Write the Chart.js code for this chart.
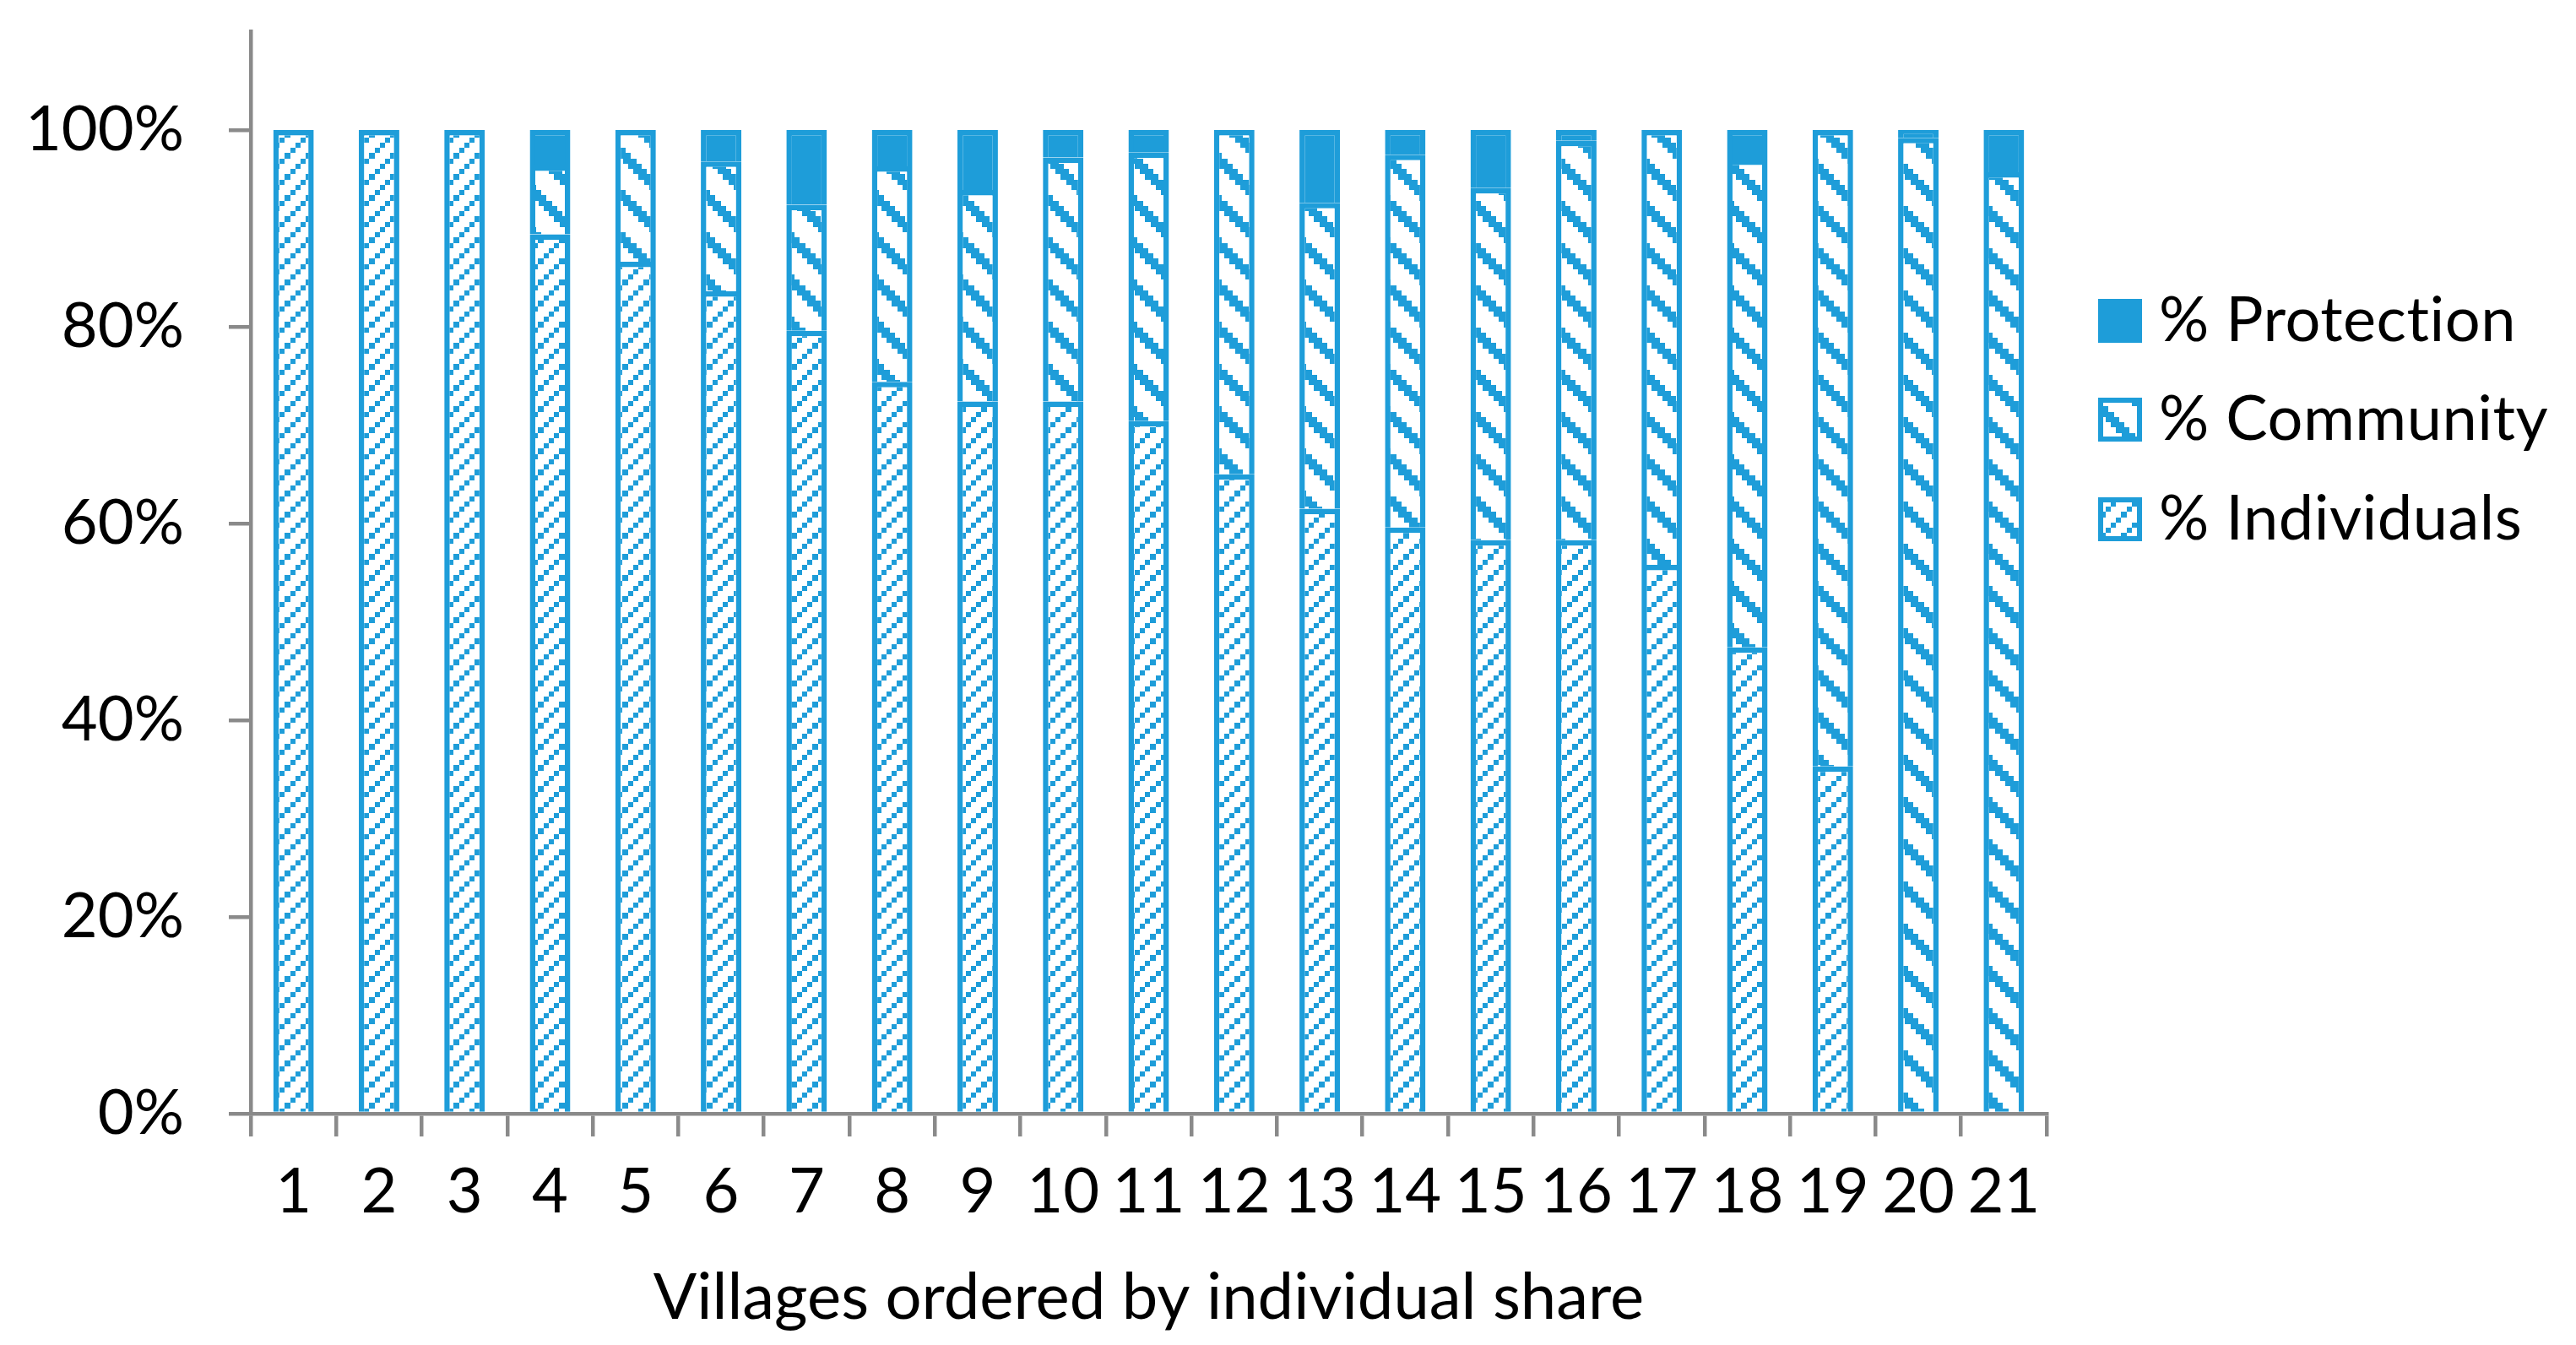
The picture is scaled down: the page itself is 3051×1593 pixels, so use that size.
<!DOCTYPE html>
<html>
<head>
<meta charset="utf-8">
<script src="https://cdn.jsdelivr.net/npm/chart.js@4/dist/chart.umd.min.js"></script>
<style>
  html, body { margin: 0; padding: 0; background: #ffffff; }
  #wrap { width: 3051px; height: 1593px; }
</style>
</head>
<body>
<div id="wrap"><canvas id="c" width="3051" height="1593"></canvas></div>
<script>
// ---- data ----
const categories = ['1','2','3','4','5','6','7','8','9','10','11','12','13','14','15','16','17','18','19','20','21'];
const individuals = [100, 100, 100, 89.4, 86.6, 83.6, 79.6, 74.4, 72.4, 72.4, 70.4, 65.0, 61.5, 59.6, 58.3, 58.3, 55.8, 47.4, 35.3, 0, 0];
const community   = [0, 0, 0, 7.0, 13.4, 13.2, 12.8, 21.9, 21.5, 24.8, 27.3, 35.0, 31.1, 37.9, 35.8, 40.6, 44.2, 49.6, 64.7, 99.2, 95.7];
const protection  = [0, 0, 0, 3.6, 0, 3.2, 7.6, 3.7, 6.1, 2.8, 2.3, 0, 7.4, 2.5, 5.9, 1.1, 0, 3.0, 0, 0.8, 4.3];
const seriesNames = ['% Individuals', '% Community', '% Protection'];
const yTickValues = [0, 20, 40, 60, 80, 100];
const yAxisMax = 110;
const xAxisTitle = 'Villages ordered by individual share';

// ---- styles ----
const BLUE = '#1e9dd9';
const AXIS = '#8a8a8a';
const FONT = 'Lato';
const FS = 74;

function makeIndividualPattern() {
  const t = 25, c = document.createElement('canvas');
  c.width = t; c.height = t;
  const g = c.getContext('2d');
  g.fillStyle = '#ffffff'; g.fillRect(0, 0, t, t);
  g.fillStyle = BLUE;
  const xs = [0, 6, 12, 19], ws = [6, 6, 7, 6];
  for (let k = 0; k < 4; k++) {
    const y = t - xs[k] - ws[k];
    g.fillRect(xs[k], y, ws[k], ws[k]);
  }
  return g.createPattern(c, 'repeat');
}
function makeCommunityPattern() {
  const t = 50, c = document.createElement('canvas');
  c.width = t; c.height = t;
  const g = c.getContext('2d');
  g.fillStyle = '#ffffff'; g.fillRect(0, 0, t, t);
  g.fillStyle = BLUE;
  const row = t / 8, w = 16;
  for (let r = 0; r < 8; r++) {
    const y0 = Math.round(r * row), y1 = Math.round((r + 1) * row);
    const x0 = Math.round(r * row);
    for (let dx = -t; dx <= t; dx += t) {
      g.fillRect(x0 + dx, y0, w, y1 - y0);
    }
  }
  return g.createPattern(c, 'repeat');
}
const patInd = makeIndividualPattern();
const patCom = makeCommunityPattern();

const legendPlugin = {
  id: 'refLegend',
  afterDraw(chart) {
    const ctx = chart.ctx;
    const ds = chart.data.datasets.slice().reverse();
    const rowsY = [380, 497, 615];
    const bx = 2485, bs = 52, tx = 2557;
    ctx.save();
    ds.forEach((d, i) => {
      const cy = rowsY[i];
      ctx.fillStyle = d.backgroundColor;
      ctx.fillRect(bx, cy - bs / 2, bs, bs);
      ctx.lineWidth = 6;
      ctx.strokeStyle = d.borderColor;
      ctx.strokeRect(bx + 3, cy - bs / 2 + 3, bs - 6, bs - 6);
      ctx.fillStyle = '#000000';
      ctx.font = FS + 'px ' + FONT;
      if ('letterSpacing' in ctx) ctx.letterSpacing = '0.5px';
      ctx.textAlign = 'left';
      ctx.textBaseline = 'middle';
      ctx.fillText(d.label, tx, cy);
    });
    ctx.restore();
  }
};

const ctx = document.getElementById('c').getContext('2d');
new Chart(ctx, {
  type: 'bar',
  data: {
    labels: categories,
    datasets: [
      { label: seriesNames[0], data: individuals, backgroundColor: patInd, borderColor: BLUE, borderWidth: 6.5 },
      { label: seriesNames[1], data: community,   backgroundColor: patCom, borderColor: BLUE, borderWidth: 6.5 },
      { label: seriesNames[2], data: protection,  backgroundColor: BLUE,   borderColor: BLUE, borderWidth: 6.5 }
    ]
  },
  options: {
    responsive: false,
    maintainAspectRatio: false,
    devicePixelRatio: 1,
    animation: false,
    layout: { padding: { left: 0, top: 37.5, right: 627, bottom: 0 } },
    datasets: { bar: { categoryPercentage: 1.0, barPercentage: 0.474, borderSkipped: 'start' } },
    plugins: { legend: { display: false }, tooltip: { enabled: false } },
    scales: {
      x: {
        stacked: true,
        z: 1,
        offset: true,
        grid: { display: true, offset: true, drawOnChartArea: false, drawTicks: true, tickLength: 27, color: AXIS, lineWidth: 4.5 },
        border: { display: true, color: AXIS, width: 4.5 },
        ticks: { color: '#000000', font: { family: FONT, size: FS }, padding: 22, maxRotation: 0, autoSkip: false },
        title: { display: true, text: xAxisTitle, color: '#000000', font: { family: FONT, size: 76 }, padding: { top: 0, bottom: 10 } },
        afterFit(scale) { scale.height = 274; scale.paddingLeft = 0; scale.paddingRight = 0; }
      },
      y: {
        stacked: true,
        z: 1,
        min: 0,
        max: yAxisMax,
        grid: { display: true, drawOnChartArea: false, drawTicks: true, tickLength: 26, color: AXIS, lineWidth: 4.5 },
        border: { display: true, color: AXIS, width: 4.5 },
        ticks: { stepSize: 20, color: '#000000', font: { family: FONT, size: FS }, padding: 53, callback: v => v + '%' },
        afterBuildTicks(scale) { scale.ticks = yTickValues.map(v => ({ value: v })); },
        afterFit(scale) { scale.width = 297; scale.paddingTop = 0; scale.paddingBottom = 0; }
      }
    }
  },
  plugins: [legendPlugin]
});
</script>
</body>
</html>
